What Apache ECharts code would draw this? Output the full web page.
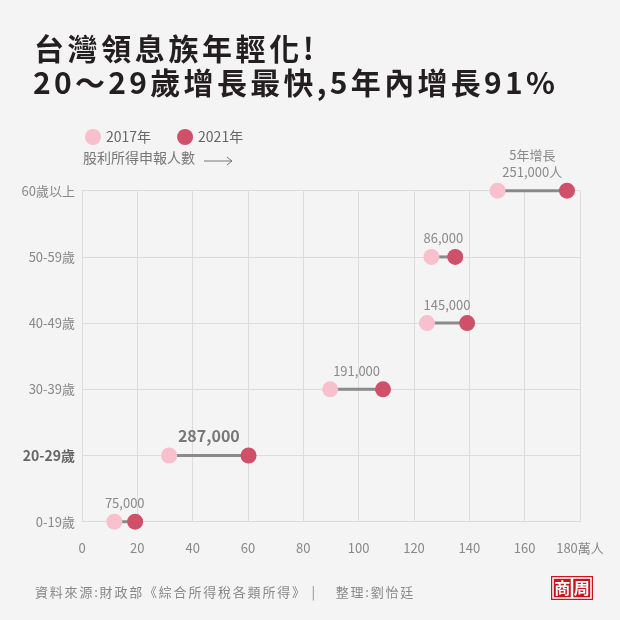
<!DOCTYPE html>
<html><head><meta charset="utf-8">
<script src="https://cdn.jsdelivr.net/npm/echarts@6/dist/echarts.min.js"></script>
<style>html,body{margin:0;padding:0;background:#f4f4f4}#c{width:620px;height:620px}</style>
</head><body><div id="c"></div>
<script>
const categories = ['0-19歲','20-29歲','30-39歲','40-49歲','50-59歲','60歲以上'];
const v2017 = [11.7, 31.5, 89.7, 124.7, 126.3, 150.2];
const v2021 = [19.2, 60.2, 108.8, 139.2, 134.9, 175.3];
const diffLabels = ['75,000','287,000','191,000','145,000','86,000','5年增長\n251,000人'];
const titleLines = ['台灣領息族年輕化!','20～29歲增長最快,5年內增長91%'];
const footerText = '資料來源:財政部《綜合所得稅各類所得》 |    整理:劉怡廷';
const FONT = '"Noto Sans CJK TC","Noto Sans",sans-serif';

const ctx = document.createElement('canvas').getContext('2d');
function spaced(str, x, y, font, fill, spacing){
  ctx.font = font;
  const out = [];
  let cx = x;
  for (const ch of str){
    out.push({type:'text',x:cx,y:y,style:{text:ch,font:font,fill:fill,align:'left',verticalAlign:'middle'}});
    cx += ctx.measureText(ch).width + spacing;
  }
  return out;
}

const chart = echarts.init(document.getElementById('c'));
const connData = categories.map((c,i)=>[v2017[i], v2021[i], i]);
const graphics = [].concat(
  spaced(titleLines[0], 34, 49, 'bold 30px '+FONT, '#231f20', 3.6),
  spaced(titleLines[1], 33, 83, 'bold 30px '+FONT, '#231f20', 3.3),
  spaced(footerText, 35, 592, '13px '+FONT, '#888', 1.8),
  [
    {type:'text',left:83,top:151,style:{text:'股利所得申報人數',font:'14px '+FONT,fill:'#777'}},
    {type:'line',shape:{x1:204,y1:161,x2:232,y2:161},style:{stroke:'#777',lineWidth:1}},
    {type:'polyline',shape:{points:[[227,157],[232,161],[227,165]]},style:{stroke:'#777',lineWidth:1,fill:null}},
    {type:'rect',shape:{x:551,y:576,width:42,height:24},style:{fill:'#c4161c'}},
    {type:'rect',shape:{x:553,y:578,width:18.5,height:20},style:{fill:'none',stroke:'#fff',lineWidth:1.5}},
    {type:'rect',shape:{x:572.5,y:578,width:18.5,height:20},style:{fill:'none',stroke:'#fff',lineWidth:1.5}},
    {type:'text',x:562.2,y:588.3,style:{text:'商',font:'bold 16px '+FONT,fill:'#fff',align:'center',verticalAlign:'middle'}},
    {type:'text',x:581.8,y:588.3,style:{text:'周',font:'bold 16px '+FONT,fill:'#fff',align:'center',verticalAlign:'middle'}}
  ]);

chart.setOption({
  backgroundColor:'#f4f4f4',
  textStyle:{fontFamily:FONT},
  grid:{left:82,right:40,top:190.7,bottom:98.3,containLabel:false},
  legend:{left:80,top:124,icon:'circle',itemWidth:16,itemHeight:16,itemGap:26,
    textStyle:{color:'#666',fontSize:14,fontFamily:FONT},
    data:['2017年','2021年']},
  xAxis:{type:'value',min:0,max:180,interval:20,
    axisLine:{show:false},axisTick:{show:false},
    axisLabel:{color:'#888',fontSize:13,margin:20,fontFamily:FONT,
      formatter:v=>v===180?'180萬人':String(v)},
    splitLine:{lineStyle:{color:'#dcdcdc',width:1}}},
  yAxis:{type:'category',data:categories,boundaryGap:false,
    axisLine:{show:true,lineStyle:{color:'#dcdcdc'}},axisTick:{show:false},
    axisLabel:{margin:7,fontFamily:FONT,
      formatter:v=>v==='20-29歲'?'{b|'+v+'}':'{n|'+v+'}',
      rich:{n:{color:'#888',fontSize:13,fontFamily:FONT},
            b:{color:'#666',fontSize:14,fontWeight:'bold',fontFamily:FONT}}},
    splitLine:{show:true,lineStyle:{color:'#dcdcdc',width:1}}},
  graphic:graphics,
  series:[
    {type:'custom',name:'conn',silent:true,z:1,
      data:connData,encode:{x:[0,1],y:2},
      renderItem:(params,api)=>{
        const a=api.coord([api.value(0),api.value(2)]);
        const b=api.coord([api.value(1),api.value(2)]);
        const idx=api.value(2);
        const big = idx===1;
        const mx=(a[0]+b[0])/2;
        return {type:'group',children:[
          {type:'line',shape:{x1:a[0],y1:a[1],x2:b[0],y2:b[1]},style:{stroke:'#8a8a8a',lineWidth:3}},
          {type:'text',x:mx,y:a[1]-(big?11:10),style:{text:diffLabels[idx],
            font:(big?'bold 16px ':'13px ')+FONT,fill:big?'#777':'#8a8a8a',
            align:'center',verticalAlign:'bottom',lineHeight:big?18:17}}
        ]};
      }},
    {type:'scatter',name:'2017年',data:categories.map((c,i)=>[v2017[i],i]),symbolSize:16,z:3,
      itemStyle:{color:'#f8bfcc',opacity:1}},
    {type:'scatter',name:'2021年',data:categories.map((c,i)=>[v2021[i],i]),symbolSize:16,z:3,
      itemStyle:{color:'#cf5068',opacity:1}}
  ]
});
</script></body></html>
